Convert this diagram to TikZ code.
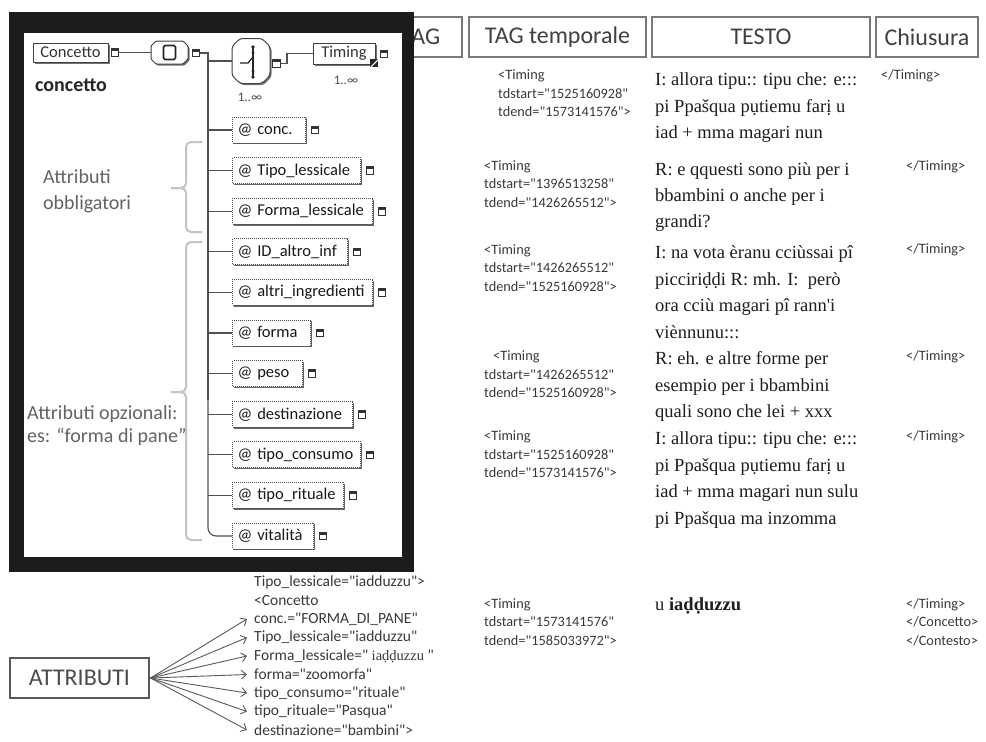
\documentclass[tikz,border=0pt]{standalone}
\usepackage{fontspec}
\setmainfont{Carlito}[Ligatures=TeXOff]
\newfontfamily\serifrm{Liberation Serif}[Ligatures=TeXOff]
\usetikzlibrary{arrows.meta,shadows}

\definecolor{frameblack}{HTML}{1C1C1C}
\definecolor{labgray}{HTML}{636363}
\definecolor{bracegray}{HTML}{C4C4C4}
\definecolor{linegray}{HTML}{505050}
\definecolor{hdrline}{HTML}{7A7A7A}
\definecolor{hdrtext}{HTML}{404040}
\definecolor{tagtext}{HTML}{3A3A3A}
\definecolor{txtblack}{HTML}{1E1E1E}

\newcommand\fs[2]{\fontsize{#1}{#2}\selectfont}

\tikzset{
  hdr/.style={draw=hdrline, line width=1.2pt, minimum height=40pt, inner sep=0pt, text=hdrtext, font=\fs{24}{28}},
  conn/.style={draw=linegray, line width=1.1pt},
  elem/.style={draw=black!75, line width=0.9pt, fill=white, inner sep=0pt, font=\fs{16.5}{17}, text=black!80,
    drop shadow={shadow xshift=1.6pt, shadow yshift=-1.6pt, fill=black!55, opacity=1}},
  iconsq/.style={draw=black!80, line width=0.9pt, minimum size=7.5pt, inner sep=0pt, fill=white,
    path picture={\fill[black!80] (path picture bounding box.north west) rectangle ([yshift=-2.5pt]path picture bounding box.north east);}},
  attrbox/.style={draw=black!70, densely dotted, line width=1pt, minimum height=26pt, inner xsep=5pt, inner ysep=0pt,
    anchor=west, fill=white, font=\fs{16.5}{18}, text=black!90, align=left,
    drop shadow={shadow xshift=1.4pt, shadow yshift=-1.4pt, fill=black!60, opacity=1}},
  compline/.style={draw=black!75, line width=1pt, fill=white},
  compshadow/.style={fill=black!55},
  mult/.style={font=\fs{13}{14}, text=black!70, inner sep=0pt},
  lab/.style={text=labgray, font=\fs{20}{26}, inner sep=0pt, anchor=north west, align=left},
  bracepath/.style={draw=bracegray, line width=2pt, rounded corners=5pt},
  tagtxt/.style={text=tagtext, font=\fs{14.3}{18.5}, inner sep=0pt, anchor=north west, align=left},
  testo/.style={text=txtblack, font=\serifrm\fs{18.5}{26.6}, inner sep=0pt, anchor=north west, align=left},
  closetxt/.style={text=tagtext, font=\fs{14.3}{16}, inner sep=0pt, anchor=west, align=left},
  attrline/.style={text=tagtext, font=\fs{15.5}{17}, inner sep=0pt, anchor=west},
  attrarrow/.style={draw=black!65, line width=0.9pt, -{Straight Barb[length=5pt,width=9pt]}},
}

\newcommand\attrrow[4]{%
  \coordinate (tr#1) at (208,#2);
  \node[attrbox, text width=#3pt] (#1) at (232,#2) {@\hspace{5pt}#4};
  \node[iconsq] (#1i) at ([xshift=9pt]#1.east) {};
  \draw[conn] (tr#1) -- (#1.west);
}
% chamfered outline: #1 style, #2 x1, #3 y1, #4 x2, #5 y2, #6 chamfer
\newcommand\chamferbox[6]{%
  \path[#1] ({#2+#6},#3) -- ({#4-#6},#3) -- (#4,{#3+#6}) -- (#4,{#5-#6}) -- ({#4-#6},#5)
    -- ({#2+#6},#5) -- (#2,{#5-#6}) -- (#2,{#3+#6}) -- cycle;}

\begin{document}
\begin{tikzpicture}[x=1pt,y=-1pt]
\useasboundingbox[fill=white] (0,0) rectangle (986,742);

% ---------- header row ----------
\node[hdr, minimum width=82pt]  (hTAG)   at (421,37)   {TAG};
\node[hdr, minimum width=177pt] (hTemp)  at (557.5,37) {TAG temporale};
\node[hdr, minimum width=218pt] (hTesto) at (761,37)   {TESTO};
\node[hdr, minimum width=102pt] (hChius) at (927,37)   {Chiusura};

% ---------- black framed schema ----------
\fill[frameblack] (9,12) rectangle (414,572);
\fill[white] (24,33) rectangle (402,557);

% top line of elements
\node[elem, minimum width=75pt, minimum height=19pt] (concetto) at (70.5,52.5) {Concetto};
\node[iconsq] (ci1) at (115,52.5) {};

\node[minimum width=37pt, minimum height=23pt, inner sep=0pt] (seq) at (169.5,52.5) {};
\chamferbox{compshadow, rounded corners=1pt}{152.6}{42.6}{189.6}{65.6}{5}
\chamferbox{compline, rounded corners=1pt}{151}{41}{188}{64}{5}
\node[draw=black!85, line width=1.6pt, rounded corners=1.5pt, minimum width=12pt, minimum height=14pt, inner sep=0pt] (seqin) at (seq.center) {};
\node[iconsq] (ci2) at (196,53) {};
\draw[conn] (ci1.east) -- (seq.west);

\node[minimum width=38pt, minimum height=45pt, inner sep=0pt] (choice) at (251,61) {};
\chamferbox{compshadow, rounded corners=3pt}{233.6}{40.1}{271.6}{85.1}{8}
\chamferbox{compline, rounded corners=3pt}{232}{38.5}{270}{83.5}{8}
% choice symbol
\draw[black!85, line width=1.2pt] (253,47) -- (253,77);
\fill[black!85] (253,47) circle (1.8) (253,53) circle (1.6) (253,71) circle (1.6) (253,77) circle (1.8);
\draw[black!85, line width=1.2pt] (240,63) -- (248,63) -- (252,58);
\node[iconsq] (ci3) at (276.5,63.5) {};
\node[mult, anchor=center] (m1) at (250,97) {1..∞};

\node[elem, minimum width=62pt, minimum height=21pt] (timing) at (344,53.5) {Timing};
\node[fill=black!85, minimum size=8pt, inner sep=0pt,
      path picture={\draw[white, line width=1pt] (path picture bounding box.south west) -- (path picture bounding box.north east);}]
      (tcorner) at ([xshift=-1pt,yshift=1pt]timing.south east) {};
\node[iconsq] (ci4) at (384,54) {};
\node[mult, anchor=center] (m2) at (346,80) {1..∞};

\coordinate (j1) at (287,63.5);
\coordinate (j2) at (287,53.5);
\draw[conn] (ci3.east) -- (j1) -- (j2) -- (timing.west);

% trunk
\coordinate (trunktop) at (208,53);
\coordinate (trunkch) at (208,61);
\coordinate (trunkmid) at (208,400);
\coordinate (trunkbot) at (208,536);
\draw[conn] (ci2.east) -- (trunktop) -- (trunkmid);
\draw[conn] (trunkch) -- (choice.west);

% attributes
\attrrow{a0}{130}{63}{conc.}
\attrrow{a1}{170.6}{118}{Tipo\_lessicale}
\attrrow{a2}{211.2}{130}{Forma\_lessicale}
\attrrow{a3}{251.8}{105}{ID\_altro\_inf}
\attrrow{a4}{292.4}{130}{altri\_ingredienti}
\attrrow{a5}{333}{68}{forma}
\attrrow{a6}{373.6}{60}{peso}
\attrrow{a7}{414.2}{110}{destinazione}
\attrrow{a8}{454.8}{118}{tipo\_consumo}
\attrrow{a9}{495.4}{101}{tipo\_rituale}
\node[attrbox, text width=71pt] (a10) at (232,536) {@\hspace{5pt}vitalità};
\node[iconsq] (a10i) at ([xshift=9pt]a10.east) {};
\draw[conn, rounded corners=8pt] (trunkmid) -- (trunkbot) -- (a10.west);

% labels and braces
\node[text=black!85, font=\bfseries\fs{20}{22}, inner sep=0pt, anchor=west] (lconc) at (35,85) {concetto};
\node[lab] (lobb) at (43,169.5) {Attributi\\obbligatori};
\node[lab, font=\fs{20}{22.5}] (lopz) at (27,405.5) {Attributi opzionali:\\es: “forma di pane”};
\draw[bracepath] (202,142) -- (186,142) -- (186,188) -- (171,188);
\draw[bracepath] (171,188) -- (186,188) -- (186,232) -- (202,232);
\draw[bracepath] (202,242) -- (186,242) -- (186,392) -- (171,392);
\draw[bracepath] (171,392) -- (186,392) -- (186,540) -- (202,540);

% ---------- bottom-left attributes ----------
\node[draw=black!65, line width=1.1pt, minimum width=139pt, minimum height=40pt, inner sep=0pt,
      text=black!70, font=\fs{24}{26}] (attr) at (79.5,678) {ATTRIBUTI};
\node[attrline] (b1) at (254,582)   {Tipo\_lessicale="iadduzzu">};
\node[attrline] (b2) at (254,600.5) {<Concetto};
\node[attrline] (b3) at (254,619)   {conc.="FORMA\_DI\_PANE"};
\node[attrline] (b4) at (254,637.5) {Tipo\_lessicale="iadduzzu"};
\node[attrline] (b5) at (254,656)   {Forma\_lessicale=" {\serifrm\fs{14.5}{16}iaḍḍuzzu} "};
\node[attrline] (b6) at (254,674.5) {forma="zoomorfa"};
\node[attrline] (b7) at (254,693)   {tipo\_consumo="rituale"};
\node[attrline] (b8) at (254,711.5) {tipo\_rituale="Pasqua"};
\node[attrline] (b9) at (254,730)   {destinazione="bambini">};
\foreach \t in {b3,b4,b5,b6,b7,b8,b9}
  \draw[attrarrow] ([xshift=1pt]attr.east) -- ([xshift=-7pt]\t.west);

% ---------- TAG temporale column ----------
\node[tagtxt] (g1) at (498,69.5)  {<Timing\\tdstart="1525160928"\\tdend="1573141576">};
\node[tagtxt] (g2) at (484,160)   {<Timing\\tdstart="1396513258"\\tdend="1426265512">};
\node[tagtxt] (g3) at (484,244)   {<Timing\\tdstart="1426265512"\\tdend="1525160928">};
\node[tagtxt] (g4) at (484,350.5) {\hspace*{9pt}<Timing\\tdstart="1426265512"\\tdend="1525160928">};
\node[tagtxt] (g5) at (484,430.5) {<Timing\\tdstart="1525160928"\\tdend="1573141576">};
\node[tagtxt] (g6) at (484,598)   {<Timing\\tdstart="1573141576"\\tdend="1585033972">};

% ---------- TESTO column ----------
\node[testo] (t1) at (655,72.5) {I: allora tipu:: tipu che: e:::\\pi Ppašqua pụtiemu farị u\\iad + mma magari nun};
\node[testo, font=\serifrm\fs{18.5}{26}] (t2) at (655,162.8) {R: e qquesti sono più per i\\bbambini o anche per i\\grandi?};
\node[testo] (t3) at (655,245.5) {I: na vota èranu cciùssai pî\\picciriḍḍi R: mh. I:~ però\\ora cciù magari pî rann'i\\viènnunu:::};
\node[testo] (t4) at (655,351.4) {R: eh. e altre forme per\\esempio per i bbambini\\quali sono che lei + xxx};
\node[testo] (t5) at (655,431.5) {I: allora tipu:: tipu che: e:::\\pi Ppašqua pụtiemu farị u\\iad + mma magari nun sulu\\pi Ppašqua ma inzomma};
\node[testo, anchor=west] (t6) at (655,606) {u {\bfseries iaḍḍuzzu}};

% ---------- Chiusura column ----------
\node[closetxt] (c1) at (881,76)  {</Timing>};
\node[closetxt] (c2) at (906,167) {</Timing>};
\node[closetxt] (c3) at (906,250) {</Timing>};
\node[closetxt] (c4) at (906,357) {</Timing>};
\node[closetxt] (c5) at (906,437) {</Timing>};
\node[tagtxt] (c6) at (906,598) {</Timing>\\</Concetto>\\</Contesto>};
\end{tikzpicture}
\end{document}
